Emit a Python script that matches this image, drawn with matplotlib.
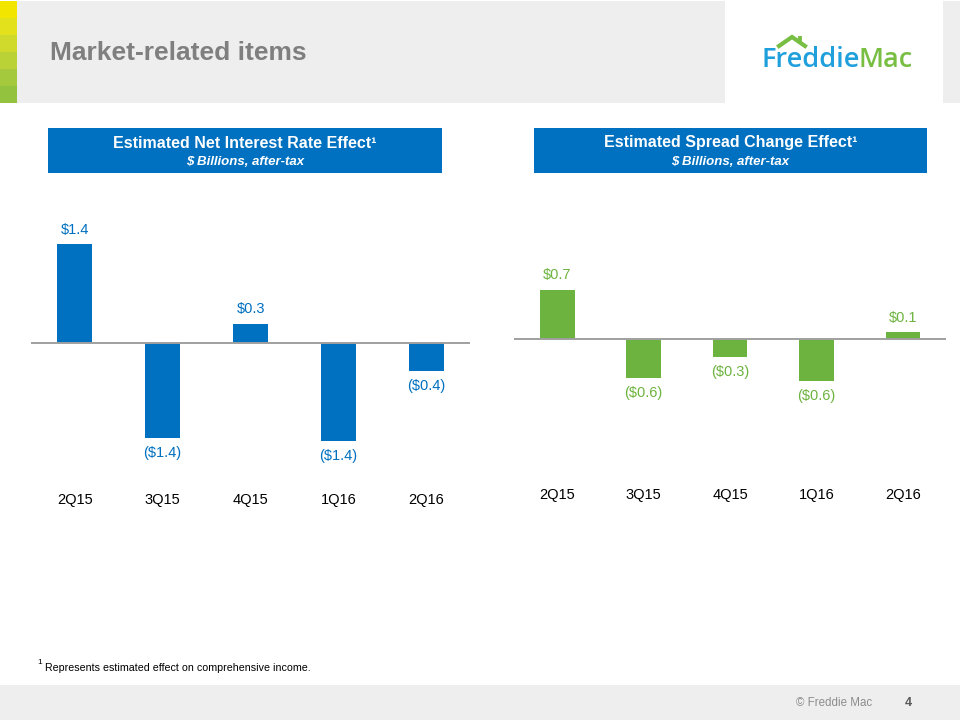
import matplotlib.pyplot as plt
from matplotlib.patches import Rectangle
from matplotlib.lines import Line2D
import matplotlib.transforms as mtransforms

plt.rcParams['font.family'] = ['Liberation Sans', 'DejaVu Sans']

# data
quarters = ['2Q15', '3Q15', '4Q15', '1Q16', '2Q16']
rate_effect = [1.4, -1.35, 0.27, -1.39, -0.40]
rate_labels = ['$1.4', '($1.4)', '$0.3', '($1.4)', '($0.4)']
spread_effect = [0.70, -0.56, -0.26, -0.60, 0.095]
spread_labels = ['$0.7', '($0.6)', '($0.3)', '($0.6)', '$0.1']

W, H = 960, 720
BLUE = '#0070C0'
GREEN = '#6DB33F'
GREY_BG = '#EEEEEE'

fig = plt.figure(figsize=(9.6, 7.2), dpi=100)
fig.patch.set_facecolor('white')


def px(x0, y0, x1, y1):
    # pixel box (top-left origin) -> figure fraction rect
    return [x0 / W, 1 - y1 / H, (x1 - x0) / W, (y1 - y0) / H]


def frect(x0, y0, x1, y1, color, z=0):
    fig.patches.append(Rectangle((x0 / W, 1 - y1 / H), (x1 - x0) / W, (y1 - y0) / H,
                                 transform=fig.transFigure, color=color, zorder=z, lw=0))


def ftext(x, y, s, **kw):
    fig.text(x / W, 1 - y / H, s, **kw)


# header band
frect(0, 1, 960, 103, GREY_BG)
frect(725, 1, 943, 103, 'white', z=1)
stripe = ['#F2E600', '#E3E01C', '#D0DA2C', '#BAD236', '#A4C93C', '#93C23F']
for i, c in enumerate(stripe):
    frect(0, 1 + i * 17, 17, 1 + (i + 1) * 17, c, z=2)
ftext(50, 53, 'Market-related items', fontsize=19, fontweight='bold',
      color='#7F7F7F', va='center', ha='left')

# logo
ftext(761, 67, 'Freddie', fontsize=19.5, color='#1FA0DC', family='Open Sans',
      fontweight='semibold', va='baseline', ha='left', zorder=3)
ftext(913, 67, 'Mac', fontsize=19.5, color='#78BE43', family='Open Sans',
      fontweight='semibold', va='baseline', ha='right', zorder=3)
fig.lines.append(Line2D([779 / W, 792 / W, 805 / W], [1 - 46 / H, 1 - 37 / H, 1 - 46 / H],
                        transform=fig.transFigure, color='#78BE43', lw=3.0,
                        solid_joinstyle='miter', zorder=3))
fig.lines.append(Line2D([800 / W, 800 / W], [1 - 38 / H, 1 - 42 / H],
                        transform=fig.transFigure, color='#78BE43', lw=2.8, zorder=3))

# footer
frect(0, 685, 960, 720, GREY_BG)
ftext(796, 703, '\u00a9 Freddie Mac', fontsize=8.3, color='#8C8C8C', va='center', ha='left')
ftext(905, 703, '4', fontsize=9, color='#595959', fontweight='bold', va='center', ha='left')
ftext(37, 663, '1', fontsize=6, color='black', va='center', ha='left')
ftext(45, 668, 'Represents estimated effect on comprehensive income.', fontsize=7.7,
      color='black', va='center', ha='left')

# section header boxes
boxes = [((48, 128, 442, 173), 'Estimated Net Interest Rate Effect\u00b9'),
         ((534, 128, 927, 173), 'Estimated Spread Change Effect\u00b9')]
for (x0, y0, x1, y1), title in boxes:
    frect(x0, y0, x1, y1, BLUE, z=1)
    xc = (x0 + x1) / 2
    ftext(xc, 143, title, fontsize=11.5, fontweight='bold', color='white',
          ha='center', va='center', zorder=2)
    ftext(xc, 162, '$ Billions, after-tax', fontsize=9.5, fontweight='bold',
          style='italic', color='white', ha='center', va='center', zorder=2)


def bar_panel(rect, zero_px, scale, values, labels, color, label_y):
    x0, y0, x1, y1 = rect
    ax = fig.add_axes(px(x0, y0, x1, y1))
    ax.set_xlim(-0.5, 4.5)
    ax.set_ylim(-(y1 - zero_px) / scale, (zero_px - y0) / scale)
    xs = range(len(values))
    ax.bar(xs, values, width=0.4, color=color, zorder=2)
    ax.axhline(0, color='#A0A0A0', lw=1.4, zorder=3)
    for x, v, s in zip(xs, values, labels):
        off = 10.5 if v > 0 else -10.5
        ax.annotate(s, (x, v), xytext=(0, off), textcoords='offset points',
                    ha='center', va='center', fontsize=10.5, color=color)
    ax.set_xticks([])
    ax.set_yticks([])
    for sp in ax.spines.values():
        sp.set_visible(False)
    ax.patch.set_alpha(0)
    trans = mtransforms.blended_transform_factory(ax.transData, fig.transFigure)
    for x, q in zip(xs, quarters):
        ax.text(x, 1 - label_y / H, q, transform=trans, ha='center', va='center',
                fontsize=10.5, color='black')
    return ax


bar_panel((30.8, 200, 470.4, 470), 343, 70.5, rate_effect, rate_labels, BLUE, 500)
bar_panel((514.1, 200, 946, 470), 339, 70.4, spread_effect, spread_labels, GREEN, 495)

fig.savefig('out.png', dpi=100)
